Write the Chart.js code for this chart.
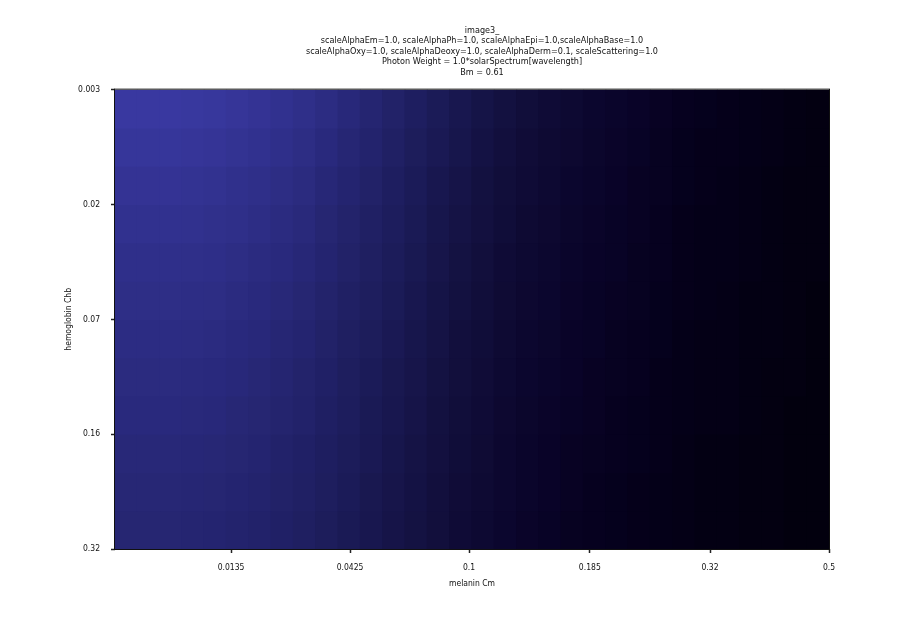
<!DOCTYPE html>
<html>
<head>
<meta charset="utf-8">
<script src="https://cdn.jsdelivr.net/npm/chart.js@4"></script>
<style>
  html, body { margin: 0; padding: 0; background: #fff; }
  canvas { display: block; }
</style>
</head>
<body>
<canvas id="heatChart" width="921" height="633"></canvas>
<script>
// melanin ticks (x) and hemoglobin ticks (y)
const melaninTicks = ["0.0135", "0.0425", "0.1", "0.185", "0.32", "0.5"];
const melaninTickAt = [0.975, 1.975, 2.975, 3.99, 5, 6]; // positions on the 0..6 image axis
const hemoglobinTicks = ["0.003", "0.02", "0.07", "0.16", "0.32"];

// brightness of the rendered skin colour, 0..100, rows top -> bottom, 32 columns
const row0 = [98, 98, 98, 97, 95, 92, 88, 84, 79, 73, 67, 61, 55, 49, 43, 38, 33, 29, 25, 22, 19, 16, 14, 12, 10, 8, 7, 6, 5, 4, 3, 2];
const row1 = [93, 93, 93, 92, 90, 87, 84, 80, 75, 69, 63, 58, 52, 46, 41, 36, 31, 27, 23, 20, 18, 15, 13, 11, 9, 7, 6, 6, 5, 4, 3, 2];
const row2 = [88, 88, 88, 87, 85, 82, 79, 75, 71, 65, 60, 55, 49, 44, 38, 34, 29, 25, 22, 19, 16, 14, 12, 10, 9, 7, 6, 5, 4, 3, 2, 2];
const row3 = [84, 84, 84, 83, 81, 79, 76, 72, 68, 62, 57, 52, 47, 42, 36, 32, 28, 24, 20, 18, 15, 13, 11, 10, 8, 6, 5, 5, 4, 3, 2, 2];
const row4 = [80, 80, 80, 79, 78, 75, 72, 69, 65, 60, 55, 50, 45, 40, 35, 30, 26, 22, 19, 17, 14, 12, 11, 9, 8, 6, 5, 5, 4, 3, 2, 2];
const row5 = [77, 77, 77, 76, 75, 72, 69, 66, 62, 57, 52, 48, 43, 38, 33, 29, 25, 21, 18, 16, 13, 11, 10, 9, 7, 6, 5, 4, 3, 3, 2, 1];
const row6 = [74, 74, 74, 73, 72, 69, 67, 63, 60, 55, 50, 46, 41, 36, 32, 27, 24, 20, 17, 15, 12, 11, 9, 8, 7, 5, 4, 4, 3, 3, 2, 1];
const row7 = [71, 71, 71, 70, 69, 67, 64, 61, 57, 53, 48, 44, 39, 35, 30, 26, 23, 19, 16, 14, 12, 10, 9, 8, 6, 5, 4, 4, 3, 2, 2, 1];
const row8 = [69, 69, 69, 68, 67, 64, 62, 59, 56, 51, 47, 42, 38, 34, 29, 25, 22, 18, 15, 13, 11, 10, 8, 7, 6, 5, 4, 4, 3, 2, 1, 1];
const row9 = [66, 66, 66, 65, 64, 62, 60, 56, 53, 49, 45, 41, 36, 32, 28, 24, 21, 17, 14, 12, 10, 9, 8, 7, 6, 4, 3, 3, 2, 2, 1, 1];
const row10 = [64, 64, 64, 63, 62, 60, 58, 55, 52, 48, 44, 39, 35, 31, 27, 23, 20, 17, 14, 12, 10, 8, 7, 6, 5, 4, 3, 3, 2, 2, 1, 1];
const row11 = [62, 62, 62, 61, 60, 58, 56, 53, 50, 46, 42, 38, 34, 30, 26, 22, 19, 16, 13, 11, 9, 8, 7, 6, 5, 4, 3, 3, 2, 2, 1, 1];
const rows = [row0, row1, row2, row3, row4, row5, row6, row7, row8, row9, row10, row11];

// colour ramp: brightness -> rgb
const ramp = [
  [0, [2, 0, 12]],
  [5, [4, 0, 24]],
  [12, [9, 3, 40]],
  [25, [17, 14, 58]],
  [45, [28, 28, 90]],
  [70, [42, 42, 126]],
  [100, [58, 57, 162]],
];
function colorOf(v) {
  for (let i = 1; i < ramp.length; i++) {
    if (v <= ramp[i][0]) {
      const [a, ca] = ramp[i - 1];
      const [b, cb] = ramp[i];
      const t = (v - a) / (b - a);
      const c = ca.map((x, k) => Math.round(x + (cb[k] - x) * t));
      return `rgb(${c[0]},${c[1]},${c[2]})`;
    }
  }
  const c = ramp[ramp.length - 1][1];
  return `rgb(${c[0]},${c[1]},${c[2]})`;
}

const columns = row0.map((_, i) => i);
const datasets = rows.map((row, r) => ({
  data: row.map(() => [r, r + 1]),
  backgroundColor: row.map(colorOf),
  borderWidth: 0,
  inflateAmount: 0.6,
  barPercentage: 1,
  categoryPercentage: 1,
  grouped: false,
  xAxisID: "x",
}));

const frame = {
  id: "frame",
  afterDraw(chart) {
    const { ctx, chartArea: a } = chart;
    ctx.save();
    ctx.strokeStyle = "#111";
    ctx.lineWidth = 1;
    ctx.strokeRect(a.left - 0.5, a.top - 0.5, a.right - a.left + 1, a.bottom - a.top + 1);
    ctx.restore();
  },
};

const font = { family: "'DejaVu Sans Condensed', 'DejaVu Sans', sans-serif", size: 8.5 };
const ctx = document.getElementById("heatChart").getContext("2d");
new Chart(ctx, {
  type: "bar",
  data: { labels: columns, datasets },
  options: {
    responsive: false,
    animation: false,
    layout: { padding: { left: 43, right: 0, top: 25, bottom: 40 } },
    plugins: {
      legend: { display: false },
      tooltip: { enabled: false },
      title: {
        display: true,
        text: [
          "image3_",
          "scaleAlphaEm=1.0, scaleAlphaPh=1.0, scaleAlphaEpi=1.0,scaleAlphaBase=1.0",
          "scaleAlphaOxy=1.0, scaleAlphaDeoxy=1.0, scaleAlphaDerm=0.1, scaleScattering=1.0",
          "Photon Weight = 1.0*solarSpectrum[wavelength]",
          "Bm = 0.61",
        ],
        color: "#111",
        font: { ...font, size: 9, weight: "normal", lineHeight: 1.17 },
        padding: { top: 0, bottom: 12 },
      },
    },
    scales: {
      x: { display: false },
      xt: {
        type: "linear",
        position: "bottom",
        min: 0,
        max: 6,
        offset: false,
        afterBuildTicks: (axis) => {
          axis.ticks = melaninTickAt.map((v) => ({ value: v }));
        },
        afterFit: (axis) => { axis.height = 44; },
        ticks: {
          color: "#111",
          font,
          padding: 10,
          autoSkip: false,
          maxRotation: 0,
          callback: (v) => melaninTicks[melaninTickAt.indexOf(v)],
        },
        grid: { offset: false, drawOnChartArea: false, tickLength: 4, color: "#222", tickWidth: 1.5 },
        border: { display: false },
        title: { display: true, text: "melanin Cm", color: "#111", font, padding: { top: 4 } },
      },
      y: {
        min: 0,
        max: 12,
        reverse: true,
        afterBuildTicks: (axis) => {
          axis.ticks = hemoglobinTicks.map((_, i) => ({ value: i * 3 }));
        },
        afterFit: (axis) => { axis.width = 72; },
        ticks: {
          color: "#111",
          font,
          padding: 11,
          autoSkip: false,
          callback: (v) => hemoglobinTicks[v / 3],
        },
        grid: { drawOnChartArea: false, tickLength: 4, color: "#222", tickWidth: 1.5 },
        border: { display: false },
        title: { display: true, text: "hemoglobin Chb", color: "#111", font, padding: { top: 21, bottom: 0 } },
      },
      yr: {
        position: "right",
        min: 0,
        max: 12,
        ticks: { display: false },
        grid: { display: false },
        border: { display: false },
        afterFit: (axis) => { axis.width = 92; },
      },
    },
  },
  plugins: [frame],
});
</script>
</body>
</html>
